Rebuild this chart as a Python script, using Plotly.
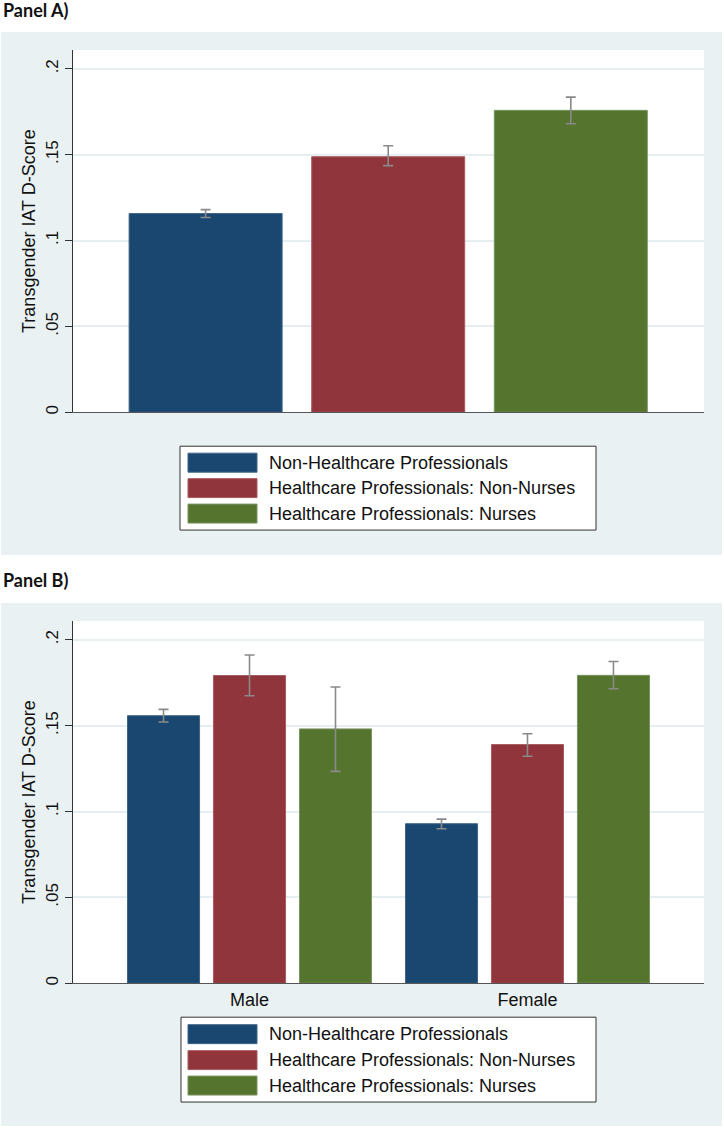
import plotly.graph_objects as go

# ---------------- data ----------------
series = ["Non-Healthcare Professionals",
          "Healthcare Professionals: Non-Nurses",
          "Healthcare Professionals: Nurses"]
colors = ["#1a476f", "#90353b", "#55752f"]
outlines = ["#3f6587", "#a85a60", "#7a9460"]

# Panel A: overall means with 95% CI bounds
a_mean = [0.1157, 0.1488, 0.1758]
a_hi = [0.1180, 0.1552, 0.1835]
a_lo = [0.1134, 0.1436, 0.1680]

# Panel B: by sex
sex = ["Male", "Female"]
b_nonhc_mean = [0.1558, 0.0929]
b_nonhc_hi = [0.1595, 0.0956]
b_nonhc_lo = [0.1521, 0.0900]
b_nonnurse_mean = [0.1792, 0.1390]
b_nonnurse_hi = [0.1911, 0.1453]
b_nonnurse_lo = [0.1674, 0.1322]
b_nurse_mean = [0.1481, 0.1793]
b_nurse_hi = [0.1725, 0.1874]
b_nurse_lo = [0.1234, 0.1715]

ytick_vals = [0, 0.05, 0.1, 0.15, 0.2]
ytick_text = ["0", ".05", ".1", ".15", ".2"]
y_title = "Transgender IAT D-Score"
panel_titles = ["Panel A)", "Panel B)"]

# ---------------- layout helpers ----------------
W, H = 724, 1130
def fx(px):
    return px / W
def fy(py):
    return 1 - py / H

FONT = "Liberation Sans, Arial, sans-serif"
BG = "#eaf1f3"
ERR = "#8a8a8a"

fig = go.Figure()

# Panel A traces (one category, grouped)
for i, name in enumerate(series):
    fig.add_trace(go.Bar(
        x=["All"], y=[a_mean[i]], name=name,
        marker=dict(color=colors[i], line=dict(color=outlines[i], width=1)),
        error_y=dict(type="data", symmetric=False,
                     array=[a_hi[i] - a_mean[i]],
                     arrayminus=[a_mean[i] - a_lo[i]],
                     color=ERR, thickness=1.6, width=5),
        xaxis="x", yaxis="y", showlegend=False,
    ))

b_means = [b_nonhc_mean, b_nonnurse_mean, b_nurse_mean]
b_his = [b_nonhc_hi, b_nonnurse_hi, b_nurse_hi]
b_los = [b_nonhc_lo, b_nonnurse_lo, b_nurse_lo]
for i, name in enumerate(series):
    m, hi, lo = b_means[i], b_his[i], b_los[i]
    fig.add_trace(go.Bar(
        x=sex, y=m, name=name,
        marker=dict(color=colors[i], line=dict(color=outlines[i], width=1)),
        error_y=dict(type="data", symmetric=False,
                     array=[h - v for h, v in zip(hi, m)],
                     arrayminus=[v - l for v, l in zip(m, lo)],
                     color=ERR, thickness=1.6, width=5),
        xaxis="x2", yaxis="y2", showlegend=False,
    ))

shapes = []
annotations = []

# panel backgrounds and white plot regions
panels = [
    dict(bg=(1, 32, 722, 556), plot=(73, 50, 704, 413), title_y=10,
         legend_box=(180, 447, 596, 531), rows=[463.5, 489.0, 514.5]),
    dict(bg=(1, 604, 722, 1128), plot=(73, 622, 704, 985), title_y=581,
         legend_box=(181, 1019, 596, 1104), rows=[1036.0, 1062.0, 1087.5]),
]
for p in panels:
    x0, y0, x1, y1 = p["bg"]
    shapes.append(dict(type="rect", xref="paper", yref="paper", layer="below",
                       x0=fx(x0), x1=fx(x1), y0=fy(y1), y1=fy(y0),
                       fillcolor=BG, line=dict(width=0)))
    x0, y0, x1, y1 = p["plot"]
    shapes.append(dict(type="rect", xref="paper", yref="paper", layer="below",
                       x0=fx(x0), x1=fx(x1), y0=fy(y1), y1=fy(y0),
                       fillcolor="white", line=dict(width=0)))
    # legend box
    x0, y0, x1, y1 = p["legend_box"]
    shapes.append(dict(type="rect", xref="paper", yref="paper", layer="above",
                       x0=fx(x0), x1=fx(x1), y0=fy(y1), y1=fy(y0),
                       fillcolor="white", line=dict(color="#333333", width=1)))
    for i, name in enumerate(series):
        cy = p["rows"][i]
        shapes.append(dict(type="rect", xref="paper", yref="paper", layer="above",
                           x0=fx(188), x1=fx(257), y0=fy(cy + 9.5), y1=fy(cy - 9.5),
                           fillcolor=colors[i], line=dict(color=outlines[i], width=1)))
        annotations.append(dict(xref="paper", yref="paper", x=fx(267), y=fy(cy),
                                xanchor="left", yanchor="middle", showarrow=False,
                                text=name, font=dict(family=FONT, size=18, color="#111111")))

for t, p in zip(panel_titles, panels):
    annotations.append(dict(xref="paper", yref="paper", x=fx(1), y=fy(p["title_y"]),
                            xanchor="left", yanchor="middle", showarrow=False,
                            text="<b>" + t + "</b>",
                            font=dict(family="Lato, Open Sans, sans-serif", size=18, color="#111111")))

def yaxis_conf(p):
    x0, y0, x1, y1 = p["plot"]
    return dict(domain=[fy(y1), fy(y0)], range=[0, 0.211],
                tickmode="array", tickvals=ytick_vals, ticktext=ytick_text,
                tickangle=-90, ticks="outside", ticklen=7, tickcolor="#333333",
                tickfont=dict(family=FONT, size=17, color="#111111"),
                showline=True, linecolor="#333333", linewidth=1,
                showgrid=True, gridcolor="#e6eef1", gridwidth=1.5,
                zeroline=False, fixedrange=True,
                title=dict(text=y_title, standoff=2,
                           font=dict(family=FONT, size=18, color="#111111")))

def xaxis_conf(p, rng, show_labels):
    x0, y0, x1, y1 = p["plot"]
    return dict(domain=[fx(x0), fx(x1)], range=rng, type="category",
                showticklabels=show_labels, ticks="",
                tickfont=dict(family=FONT, size=18, color="#111111"),
                showline=True, linecolor="#555555", linewidth=1.2,
                showgrid=False, zeroline=False, fixedrange=True)

ya = yaxis_conf(panels[0]); ya["anchor"] = "x"
yb = yaxis_conf(panels[1]); yb["anchor"] = "x2"
xa = xaxis_conf(panels[0], [-0.534, 0.535], False); xa["anchor"] = "y"
xb = xaxis_conf(panels[1], [-0.635, 1.635], True); xb["anchor"] = "y2"

fig.update_layout(
    width=W, height=H,
    margin=dict(l=0, r=0, t=0, b=0),
    paper_bgcolor="white", plot_bgcolor="rgba(0,0,0,0)",
    barmode="group", bargap=0.072, bargroupgap=0.162,
    xaxis=xa, yaxis=ya, xaxis2=xb, yaxis2=yb,
    shapes=shapes, annotations=annotations,
    showlegend=False,
    font=dict(family=FONT),
)

fig.write_html("out.html", config={"displayModeBar": False},
               post_script="document.body.style.margin='0';document.body.style.overflow='hidden';")
